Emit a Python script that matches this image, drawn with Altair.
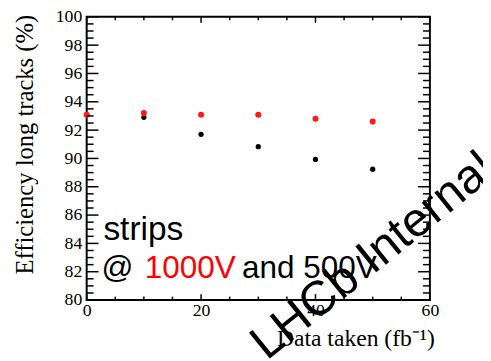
import altair as alt
import pandas as pd

# ---- data ----
data_taken = [0, 10, 20, 30, 40, 50]
eff_1000v = [93.08, 93.2, 93.08, 93.08, 92.8, 92.6]
eff_500v = [93.08, 92.9, 91.7, 90.83, 89.93, 89.24]

x_labels = [0, 20, 40, 60]
x_minor = [5, 10, 15, 25, 30, 35, 45, 50, 55]
y_labels = [80, 82, 84, 86, 88, 90, 92, 94, 96, 98, 100]
y_minor = [v / 2 for v in range(160, 201) if v % 4 != 0]

W, H = 349, 288
SERIF = "Liberation Serif"
SANS = "Liberation Sans"

xs = alt.Scale(domain=[0, 60], nice=False, zero=False)
ys = alt.Scale(domain=[80, 100], nice=False, zero=False)

df500 = pd.DataFrame({"x": data_taken, "eff": eff_500v})
df1000 = pd.DataFrame({"x": data_taken, "eff": eff_1000v})

xaxis = alt.Axis(values=x_labels, title=None, grid=False, domain=False, ticks=False,
                 labelFont=SERIF, labelFontSize=18, labelColor="black", labelPadding=2,
                 labelFlush=False)
yaxis = alt.Axis(values=y_labels, title=None, grid=False, domain=False, ticks=False,
                 labelFont=SERIF, labelFontSize=18, labelColor="black", labelPadding=5)

black_pts = alt.Chart(df500).mark_circle(color="black", size=28, opacity=1).encode(
    x=alt.X("x:Q", scale=xs, axis=xaxis),
    y=alt.Y("eff:Q", scale=ys, axis=yaxis),
)
red_pts = alt.Chart(df1000).mark_circle(color="#ff1a1a", size=38, opacity=1).encode(
    x=alt.X("x:Q", scale=xs, axis=xaxis),
    y=alt.Y("eff:Q", scale=ys, axis=yaxis),
)


def yticks(vals, length):
    d = pd.DataFrame({"v": vals})
    left = alt.Chart(d).mark_rule(color="black", strokeWidth=1.5).encode(
        y=alt.Y("v:Q", scale=ys, axis=yaxis), x=alt.value(0), x2=alt.value(length))
    right = alt.Chart(d).mark_rule(color="black", strokeWidth=1.5).encode(
        y=alt.Y("v:Q", scale=ys, axis=yaxis), x=alt.value(W), x2=alt.value(W - length))
    return [left, right]


def xticks(vals, length):
    d = pd.DataFrame({"v": vals})
    top = alt.Chart(d).mark_rule(color="black", strokeWidth=1.5).encode(
        x=alt.X("v:Q", scale=xs, axis=xaxis), y=alt.value(0), y2=alt.value(length))
    bottom = alt.Chart(d).mark_rule(color="black", strokeWidth=1.5).encode(
        x=alt.X("v:Q", scale=xs, axis=xaxis), y=alt.value(H), y2=alt.value(H - length))
    return [top, bottom]


one = alt.Data(values=[{"a": 1}])


def label(text, x, y, **kw):
    return alt.Chart(one).mark_text(text=text, **kw).encode(x=alt.value(x), y=alt.value(y))


texts = [
    label("Data taken (fb\u207b\u00b9)", 354, 335, align="right", baseline="alphabetic",
          font=SERIF, fontSize=24, color="black"),
    label("Efficiency long tracks (%)", -55, -2, angle=270, align="right",
          baseline="alphabetic", font=SERIF, fontSize=25, color="black"),
    label("strips", 17, 227, align="left", baseline="alphabetic", font=SANS,
          fontSize=34, color="black"),
    label("@", 15, 266, align="left", baseline="alphabetic", font=SANS,
          fontSize=32, color="black"),
    label("1000V", 59, 266, align="left", baseline="alphabetic", font=SANS,
          fontSize=32, color="#ff0000"),
    label("and 500V", 158, 266, align="left", baseline="alphabetic", font=SANS,
          fontSize=32, color="black"),
    label("LHCb Internal", 183, 350, angle=321, align="left", baseline="alphabetic",
          font=SANS, fontSize=49, color="black"),
]

layers = ([black_pts, red_pts]
          + yticks(y_labels, 12) + yticks(y_minor, 7)
          + xticks(x_labels, 6) + xticks(x_minor, 3.5)
          + texts)

chart = alt.layer(*layers).properties(
    width=W, height=H,
    autosize=alt.AutoSizeParams(type="none"),
    padding={"left": 80, "top": 6, "right": 54, "bottom": 59},
    background="white",
).configure_view(stroke="black", strokeWidth=2)

chart.save("out.html", embed_options={"renderer": "svg", "actions": False})
